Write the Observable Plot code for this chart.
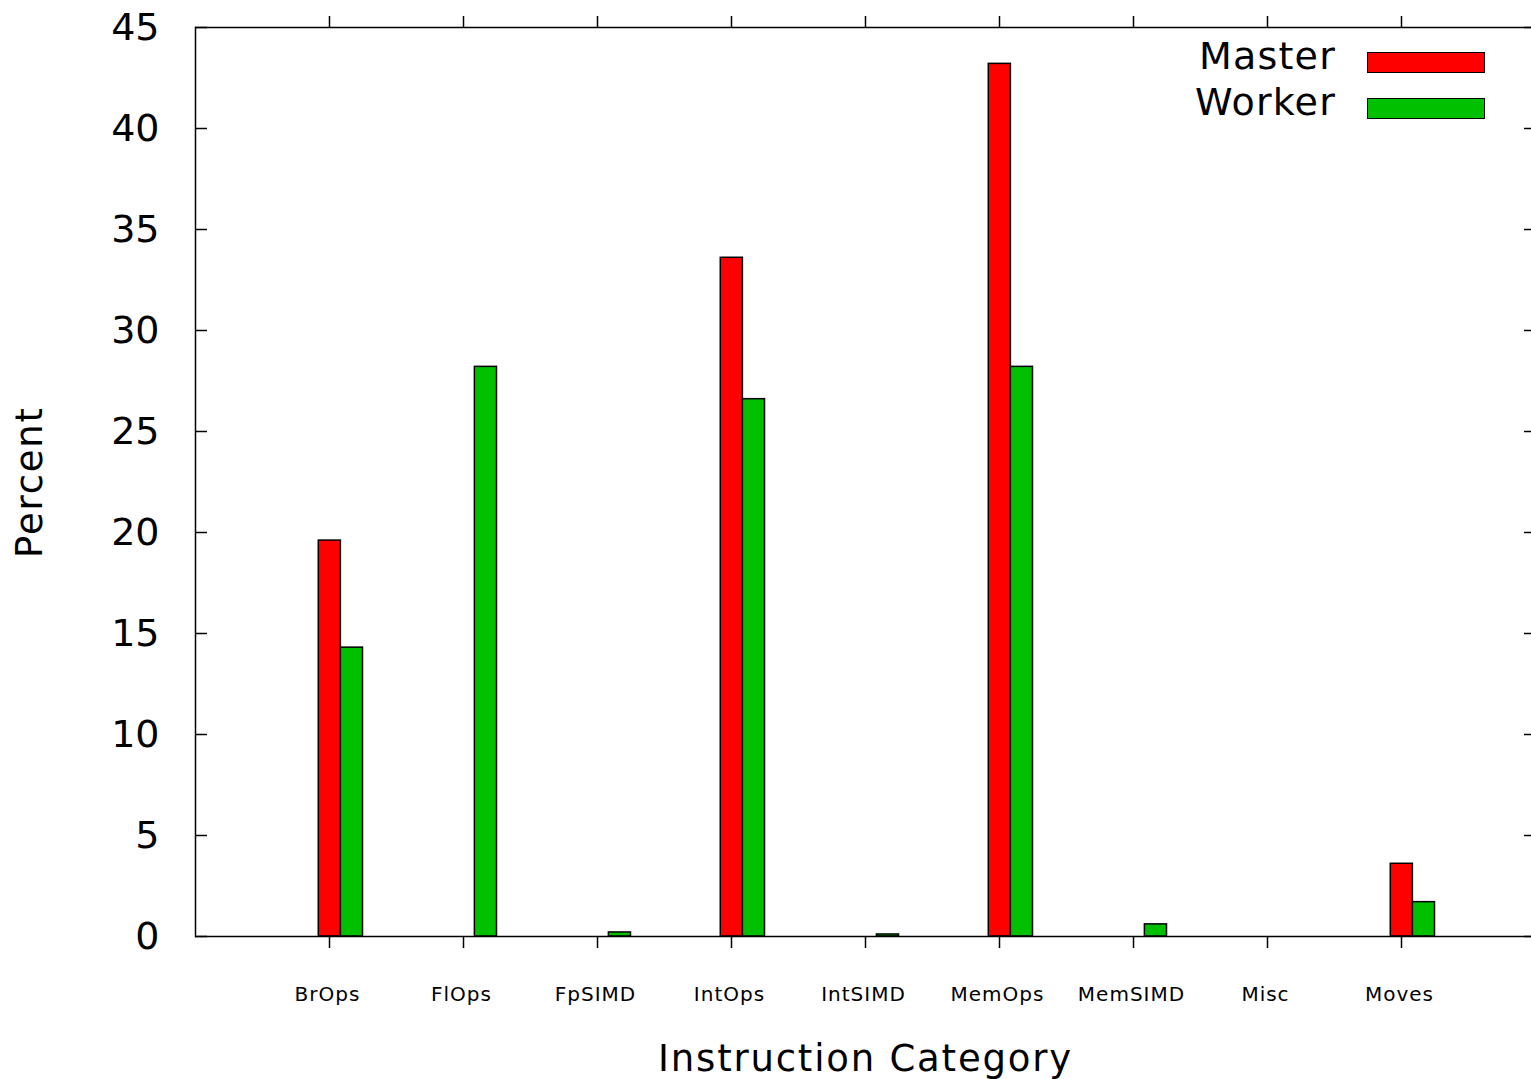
<!DOCTYPE html>
<html>
<head>
<meta charset="utf-8">
<script src="https://cdn.jsdelivr.net/npm/d3@7"></script>
<script src="https://cdn.jsdelivr.net/npm/@observablehq/plot@0.6"></script>
<style>
  body { margin: 0; background: #fff; }
  #wrap { position: relative; width: 1531px; height: 1079px; overflow: hidden; font-family: "DejaVu Sans", sans-serif; }
  #legend { position: absolute; left: 1100px; top: 37px; }
  .lrow { display: flex; align-items: flex-start; height: 46px; }
  .ltext { width: 236px; text-align: right; font-size: 38px; line-height: 38px; color: #000; letter-spacing: 1.2px; }
  .lsw { margin-left: 31px; margin-top: 15px; width: 118px; height: 21px; border: 1.5px solid #000; box-sizing: border-box; }
  .xtitle text, .ytitle text { letter-spacing: 1.8px; }
  .xcats text { letter-spacing: 1px; }
</style>
</head>
<body>
<div id="wrap"></div>
<script>
// ---- data ----
const categories = ["BrOps", "FlOps", "FpSIMD", "IntOps", "IntSIMD", "MemOps", "MemSIMD", "Misc", "Moves"];
const masterValues = [19.6, 0, 0, 33.6, 0, 43.2, 0, 0, 3.6];
const workerValues = [14.3, 28.2, 0.2, 26.6, 0.1, 28.2, 0.6, 0, 1.7];
const seriesNames = ["Master", "Worker"];
const seriesColors = ["#ff0000", "#00c000"];
const yTicks = [0, 5, 10, 15, 20, 25, 30, 35, 40, 45];
const xLabel = "Instruction Category";
const yLabel = "Percent";

// ---- layout (bar placement within a category, in x units) ----
const barOffsets = { Master: [-0.08, 0.085], Worker: [0.085, 0.25] };

const rows = [];
categories.forEach((c, i) => {
  rows.push({ series: "Master", i, category: c, value: masterValues[i] });
  rows.push({ series: "Worker", i, category: c, value: workerValues[i] });
});

const catIdx = categories.map((_, i) => i);

const chart = Plot.plot({
  width: 1531,
  height: 1079,
  marginLeft: 195,
  marginRight: -4,
  marginTop: 27,
  marginBottom: 143,
  x: { type: "linear", domain: [-1, 9] },
  y: { domain: [0, 45] },
  color: { domain: seriesNames, range: seriesColors },
  style: { fontFamily: "DejaVu Sans", color: "black", background: "white", overflow: "hidden" },
  marks: [
    Plot.rectY(rows, {
      x1: d => d.i + barOffsets[d.series][0],
      x2: d => d.i + barOffsets[d.series][1],
      y: "value",
      fill: "series",
      stroke: "black",
      strokeWidth: 1.5
    }),
    Plot.frame({ stroke: "black", strokeWidth: 1.5 }),
    Plot.axisY({ anchor: "left", ticks: yTicks, tickSize: -12, tickPadding: 48, fontSize: 38, label: null, strokeWidth: 1.5 }),
    Plot.axisY({ anchor: "right", ticks: yTicks, tickSize: -12, text: null, label: null, strokeWidth: 1.5 }),
    Plot.axisX({ anchor: "bottom", ticks: catIdx, tickSize: 12, text: null, label: null, strokeWidth: 1.5 }),
    Plot.axisX({ anchor: "bottom", ticks: catIdx, tickSize: 0, tickPadding: 50, dx: -2, fontSize: 20, tickFormat: i => categories[i], label: null, className: "xcats" }),
    Plot.axisX({ anchor: "top", ticks: catIdx, tickSize: 12, text: null, label: null, strokeWidth: 1.5 }),
    Plot.text([xLabel], { text: d => d, frameAnchor: "bottom", textAnchor: "middle", dy: 134, lineAnchor: "bottom", fontSize: 37, className: "xtitle" }),
    Plot.text([yLabel], { text: d => d, frameAnchor: "left", textAnchor: "middle", dx: -165, rotate: -90, fontSize: 37, className: "ytitle" })
  ]
});

const wrap = document.getElementById("wrap");
wrap.appendChild(chart);

// legend (inside plot area, top right)
const legend = document.createElement("div");
legend.id = "legend";
seriesNames.forEach((name, k) => {
  const row = document.createElement("div");
  row.className = "lrow";
  const t = document.createElement("span");
  t.className = "ltext";
  t.textContent = name;
  const sw = document.createElement("span");
  sw.className = "lsw";
  sw.style.background = seriesColors[k];
  row.appendChild(t);
  row.appendChild(sw);
  legend.appendChild(row);
});
wrap.appendChild(legend);
</script>
</body>
</html>
